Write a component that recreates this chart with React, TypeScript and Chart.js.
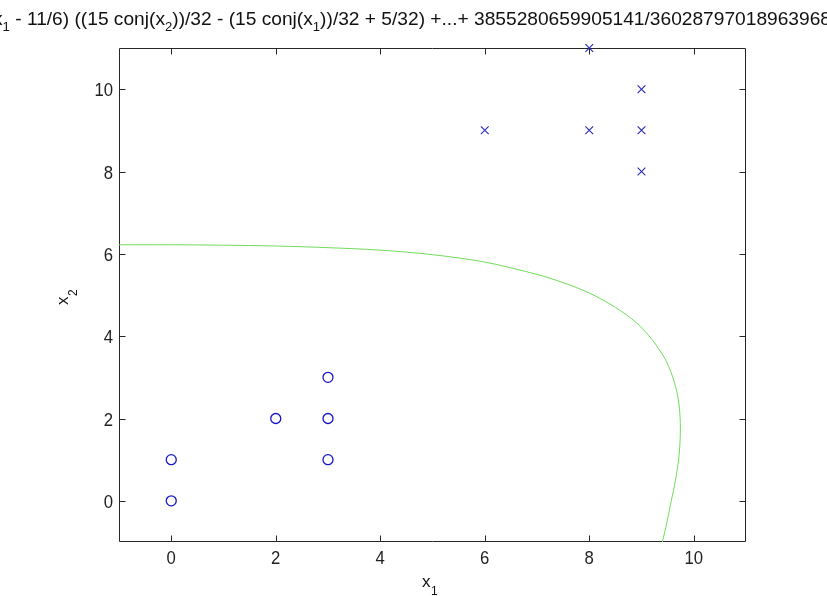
import React, { useEffect, useRef } from 'react';
import { Chart, registerables } from 'chart.js';

Chart.register(...registerables);

// ---- data ----
const xTickValues = [0, 2, 4, 6, 8, 10];
const yTickValues = [0, 2, 4, 6, 8, 10];
const xTickLabels = ['0', '2', '4', '6', '8', '10'];
const yTickLabels = ['0', '2', '4', '6', '8', '10'];

const negX = [0, 0, 2, 3, 3, 3];
const negY = [0, 1, 2, 1, 2, 3];

const posX = [6, 8, 9, 9, 9, 8];
const posY = [9, 9, 8, 9, 10, 11];

const boundaryX = [-1, 0, 1, 2, 3, 4, 5, 6, 7, 7.5, 8, 8.5, 8.9, 9.2, 9.45, 9.6, 9.7, 9.74, 9.74, 9.71, 9.65, 9.57, 9.49, 9.4];
const boundaryY = [6.22, 6.22, 6.21, 6.19, 6.15, 6.09, 5.98, 5.8, 5.5, 5.3, 5.05, 4.7, 4.33, 3.92, 3.45, 3.0, 2.5, 2.0, 1.5, 1.0, 0.5, 0.0, -0.5, -1.0];

// title pieces: [text, isSubscript]
const titleParts: [string, boolean][] = [
  ['x', false],
  ['1', true],
  [' - 11/6) ((15 conj(x', false],
  ['2', true],
  ['))/32 - (15 conj(x', false],
  ['1', true],
  ['))/32 + 5/32) +...+ 3855280659905141/36028797018963968', false],
];

const FONT = "'Liberation Sans', Arial, sans-serif";
const AX = '#262626';

const toPts = (xs: number[], ys: number[]) => xs.map((x, i) => ({ x, y: ys[i] }));

const decorPlugin = {
  id: 'decor',
  beforeDatasetsDraw(chart: any) {
    const { ctx, chartArea: a, scales } = chart;
    ctx.save();
    ctx.strokeStyle = AX;
    ctx.lineWidth = 1;
    const L = Math.round(a.left) + 0.5, R = Math.round(a.right) - 0.5;
    const T = Math.round(a.top) + 0.5, B = Math.round(a.bottom) - 0.5;
    ctx.beginPath();
    ctx.rect(L, T, R - L, B - T);
    const tl = 6;
    for (const v of xTickValues) {
      const px = Math.round(scales.x.getPixelForValue(v)) + 0.5;
      ctx.moveTo(px, B); ctx.lineTo(px, B - tl);
      ctx.moveTo(px, T); ctx.lineTo(px, T + tl);
    }
    for (const v of yTickValues) {
      const py = Math.round(scales.y.getPixelForValue(v)) + 0.5;
      ctx.moveTo(L, py); ctx.lineTo(L + tl, py);
      ctx.moveTo(R, py); ctx.lineTo(R - tl, py);
    }
    ctx.stroke();

    // tick labels (slightly condensed)
    const sx = 0.88;
    ctx.fillStyle = '#222';
    ctx.font = `19px ${FONT}`;
    ctx.textBaseline = 'alphabetic';
    xTickValues.forEach((v, i) => {
      const px = scales.x.getPixelForValue(v);
      ctx.save();
      ctx.translate(px, B + 22);
      ctx.scale(sx, 1);
      ctx.textAlign = 'center';
      ctx.fillText(xTickLabels[i], 0, 0);
      ctx.restore();
    });
    yTickValues.forEach((v, i) => {
      const py = scales.y.getPixelForValue(v);
      ctx.save();
      ctx.translate(L - 6.5, py + 7);
      ctx.scale(sx, 1);
      ctx.textAlign = 'right';
      ctx.fillText(yTickLabels[i], 0, 0);
      ctx.restore();
    });
    ctx.restore();
  },
  afterDraw(chart: any) {
    const { ctx } = chart;
    ctx.save();
    ctx.fillStyle = '#111';
    ctx.textBaseline = 'alphabetic';
    ctx.textAlign = 'left';
    // title
    const mainFont = `19px ${FONT}`;
    const subFont = `13px ${FONT}`;
    let total = 0;
    for (const [t, sub] of titleParts) {
      ctx.font = sub ? subFont : mainFont;
      total += ctx.measureText(t).width;
    }
    const startX = -7;
    const targetW = 838;
    const sx = targetW / total;
    ctx.save();
    ctx.translate(startX, 25);
    ctx.scale(sx, 1);
    let x = 0;
    for (const [t, sub] of titleParts) {
      ctx.font = sub ? subFont : mainFont;
      ctx.fillText(t, x, sub ? 6 : 0);
      x += ctx.measureText(t).width;
    }
    ctx.restore();

    // x axis label
    ctx.font = `17px ${FONT}`;
    ctx.fillText('x', 422, 587);
    const wx = ctx.measureText('x').width;
    ctx.font = `12px ${FONT}`;
    ctx.fillText('1', 422 + wx + 0.5, 595);

    // y axis label (rotated)
    ctx.save();
    ctx.translate(68, 305);
    ctx.rotate(-Math.PI / 2);
    ctx.font = `17px ${FONT}`;
    ctx.fillText('x', 0, 0);
    const wy = ctx.measureText('x').width;
    ctx.font = `12px ${FONT}`;
    ctx.fillText('2', wy + 0.5, 9);
    ctx.restore();

    ctx.restore();
  },
};

export default function App() {
  const ref = useRef<HTMLCanvasElement>(null);
  useEffect(() => {
    if (!ref.current) return;
    const chart = new Chart(ref.current, {
      type: 'scatter',
      data: {
        datasets: [
          {
            label: 'boundary',
            data: toPts(boundaryX, boundaryY),
            showLine: true,
            borderColor: '#6fdc5a',
            borderWidth: 1,
            pointRadius: 0,
            tension: 0.3,
            fill: false,
          },
          {
            label: 'y=0',
            data: toPts(negX, negY),
            pointStyle: 'circle',
            pointRadius: 5,
            pointBorderWidth: 1.3,
            borderColor: '#1515c8',
            backgroundColor: 'rgba(0,0,0,0)',
            showLine: false,
          },
          {
            label: 'y=1',
            data: toPts(posX, posY),
            pointStyle: 'crossRot',
            pointRadius: 5.5,
            pointBorderWidth: 1.1,
            borderColor: '#2a2ab8',
            backgroundColor: '#2a2ab8',
            showLine: false,
            clip: false as any,
          },
        ],
      },
      options: {
        animation: false,
        responsive: false,
        events: [],
        layout: { padding: { top: 48, right: 81, left: 0, bottom: 0 } },
        plugins: {
          legend: { display: false },
          title: { display: false },
          tooltip: { enabled: false },
        },
        scales: {
          x: {
            type: 'linear',
            min: -1,
            max: 11,
            grid: { display: false, drawTicks: false },
            border: { display: false },
            afterBuildTicks: (axis: any) => {
              axis.ticks = xTickValues.map((v) => ({ value: v }));
            },
            afterFit: (s: any) => { s.height = 54; },
            ticks: { display: false },
          },
          y: {
            type: 'linear',
            min: -1,
            max: 11,
            grid: { display: false, drawTicks: false },
            border: { display: false },
            afterBuildTicks: (axis: any) => {
              axis.ticks = yTickValues.map((v) => ({ value: v }));
            },
            afterFit: (s: any) => { s.width = 119; },
            ticks: { display: false },
          },
        },
      },
      plugins: [decorPlugin],
    });
    return () => chart.destroy();
  }, []);
  return (
    <div style={{ position: 'fixed', left: 0, top: 0, width: 827, height: 596, background: '#fff' }}>
      <canvas ref={ref} width={827} height={596} style={{ display: 'block', width: 827, height: 596 }} />
    </div>
  );
}
